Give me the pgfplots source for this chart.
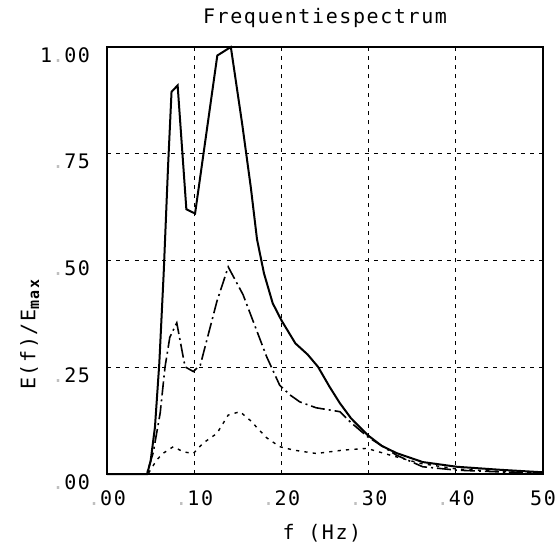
\documentclass[border=0pt]{standalone}
\usepackage{pgfplots}
\pgfplotsset{compat=1.18}
\usepackage{fontspec}
\setmainfont[LetterSpace=8]{DejaVu Sans Mono}
\newcommand{\fd}{\textcolor{gray!50}{.}}
\begin{document}
\begin{tikzpicture}
\begin{axis}[name=ax,
  width=218pt, height=213.5pt, scale only axis,
  xmin=0, xmax=50, ymin=0, ymax=1,
  xtick={0,10,20,30,40,50}, ytick={0,0.25,0.5,0.75,1},
  xticklabels={{\mbox{\fd 00}},{\mbox{\fd 10}},{\mbox{\fd 20}},{\mbox{\fd 30}},{\mbox{\fd 40}},{\mbox{50}}},
  yticklabels={{\mbox{\fd 00}},{\mbox{\fd 25}},{\mbox{\fd 50}},{\mbox{\fd 75}},{\mbox{1\fd 00}}},
  major tick length=0pt,
  grid=major,
  grid style={black, line width=0.65pt, dash pattern=on 2pt off 2.6pt},
  axis line style={line width=0.9pt},
  tick label style={font=\fontsize{10}{12}\selectfont},
  label style={font=\fontsize{10}{12}\selectfont},
  xticklabel style={anchor=north, yshift=-5pt},
  yticklabel style={anchor=east, xshift=-5pt, yshift=-4pt},
  xlabel={f (Hz)},
  xlabel style={at={(axis description cs:0.493,-0.138)}, anchor=center},
  ylabel={E(f)/E\raisebox{-0.35ex}{\fontsize{7.5}{8}\selectfont\bfseries max}},
  ylabel style={at={(axis description cs:-0.177,0.326)}, anchor=center},
  clip=false,
]
\addplot[black, line width=1pt] coordinates {
(0,0)(4.6,0)(5,0.03)(5.5,0.11)(6,0.26)(6.5,0.47)(7,0.72)(7.4,0.895)(8.1,0.91)(9.1,0.62)(10.1,0.61)(12.65,0.98)(14.2,1.0)(15.5,0.82)(16.5,0.67)(17.2,0.55)(18,0.47)(19,0.40)(20,0.36)(21.6,0.306)(23,0.28)(24.2,0.251)(25.5,0.205)(26.7,0.166)(28,0.13)(29.9,0.091)(31.5,0.066)(33.2,0.049)(36.2,0.028)(40.1,0.017)(45,0.01)(50,0.004)
};
\addplot[black, line width=0.8pt, dash pattern=on 7pt off 2pt on 1pt off 2pt] coordinates {
(0,0)(4.55,0)(5.3,0.05)(6.1,0.143)(6.65,0.25)(7.2,0.32)(8.0,0.354)(8.95,0.251)(9.9,0.24)(10.7,0.255)(12.6,0.404)(13.9,0.485)(15.6,0.42)(18.3,0.275)(19.8,0.208)(21,0.185)(22.1,0.169)(24,0.155)(26.7,0.146)(28,0.12)(29.9,0.087)(33.2,0.044)(36.2,0.017)(40.1,0.009)(45,0.005)(50,0.002)
};
\addplot[black, line width=0.7pt, dash pattern=on 1.6pt off 2.6pt] coordinates {
(0,0)(4.7,0)(5.7,0.033)(6.4,0.048)(7.6,0.064)(8.75,0.052)(9.9,0.048)(11.0,0.072)(12.6,0.095)(13.9,0.138)(15.25,0.146)(16.4,0.126)(18.3,0.085)(19.8,0.064)(21.4,0.056)(24.0,0.048)(27.1,0.056)(29.8,0.06)(32.5,0.044)(35.9,0.025)(40,0.012)(45,0.006)(50,0.002)
};
\node[font=\fontsize{10}{12}\selectfont, anchor=center] at (axis description cs:0.5,1.068) {Frequentiespectrum};
\end{axis}
\pgfresetboundingbox
\path ([shift={(-53.5pt,-37.5pt)}]ax.south west) rectangle ([shift={(7pt,23.5pt)}]ax.north east);
\end{tikzpicture}
\end{document}
